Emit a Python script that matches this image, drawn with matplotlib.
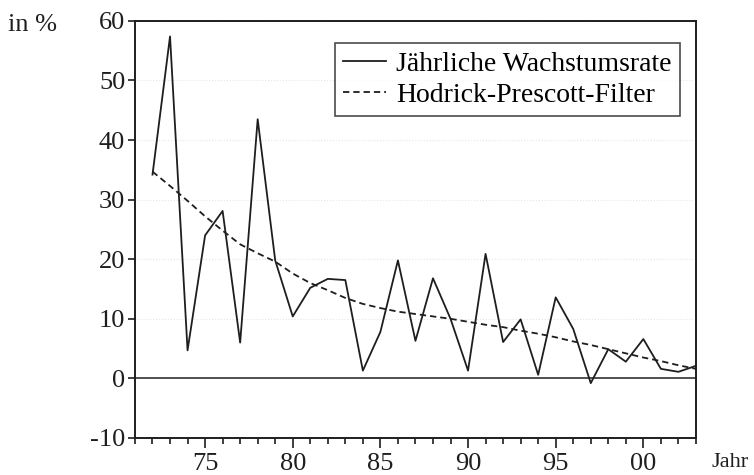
import matplotlib
matplotlib.use("Agg")
import matplotlib.pyplot as plt

plt.rcParams['font.family'] = ['Liberation Serif', 'DejaVu Serif']
plt.rcParams['axes.unicode_minus'] = False

years = list(range(1972, 2004))
growth = [34.2, 57.4, 4.7, 24.0, 28.1, 6.0, 43.5, 19.8, 10.4, 15.2, 16.7, 16.5,
          1.3, 7.8, 19.8, 6.3, 16.8, 10.0, 1.3, 20.9, 6.1, 9.9, 0.6, 13.6,
          8.3, -0.8, 4.9, 2.8, 6.6, 1.6, 1.1, 2.1]
hp_trend = [34.7, 32.3, 29.8, 27.2, 24.8, 22.5, 21.0, 19.6, 17.6, 16.0, 14.8, 13.5,
            12.5, 11.8, 11.2, 10.8, 10.4, 10.0, 9.5, 9.0, 8.6, 8.0, 7.5, 6.9,
            6.2, 5.6, 4.9, 4.2, 3.5, 2.9, 2.2, 1.6]

tick_years = [1975, 1980, 1985, 1990, 1995, 2000]
tick_labels = ['75', '80', '85', '90', '95', '00']

fig = plt.figure(figsize=(7.54, 4.75), dpi=100)
ax = fig.add_axes([0.179, 0.078, 0.744, 0.878])

ink = '#1e1e1e'
ax.axhline(0, color='#505050', lw=1.4, zorder=1)
ax.plot(years, growth, color=ink, lw=1.3, label='Jährliche Wachstumsrate')
ax.plot(years, hp_trend, color=ink, lw=1.3, ls=(0, (3.5, 2.2)), label='Hodrick-Prescott-Filter')

ax.set_xlim(1971, 2003)
ax.set_ylim(-10, 60)
ax.set_yticks(range(-10, 61, 10))
ax.set_xticks(tick_years)
ax.set_xticklabels(tick_labels)
ax.set_xticks(range(1971, 2004), minor=True)
ax.yaxis.grid(True, color='#e6e6e6', ls=':', lw=0.8)
ax.set_axisbelow(True)

ax.tick_params(axis='both', which='both', direction='out', colors=ink,
               labelsize=19, width=1.2)
ax.tick_params(axis='x', which='major', length=7.5, pad=3)
ax.tick_params(axis='x', which='minor', length=4)
ax.tick_params(axis='y', length=5, pad=2)
for s in ax.spines.values():
    s.set_color(ink)
    s.set_linewidth(1.4)

leg = ax.legend(loc='upper right', bbox_to_anchor=(0.971, 0.947), fontsize=20,
                frameon=True, fancybox=False, handlelength=1.55,
                borderpad=0.3, labelspacing=0.2, handletextpad=0.35,
                borderaxespad=0)
leg.get_frame().set_edgecolor(ink)
leg.get_frame().set_linewidth(1.2)

fig.text(0.011, 0.935, 'in %', fontsize=19, color=ink)
fig.text(0.944, 0.017, 'Jahr', fontsize=16, color=ink)

fig.savefig('out.png', dpi=100)
